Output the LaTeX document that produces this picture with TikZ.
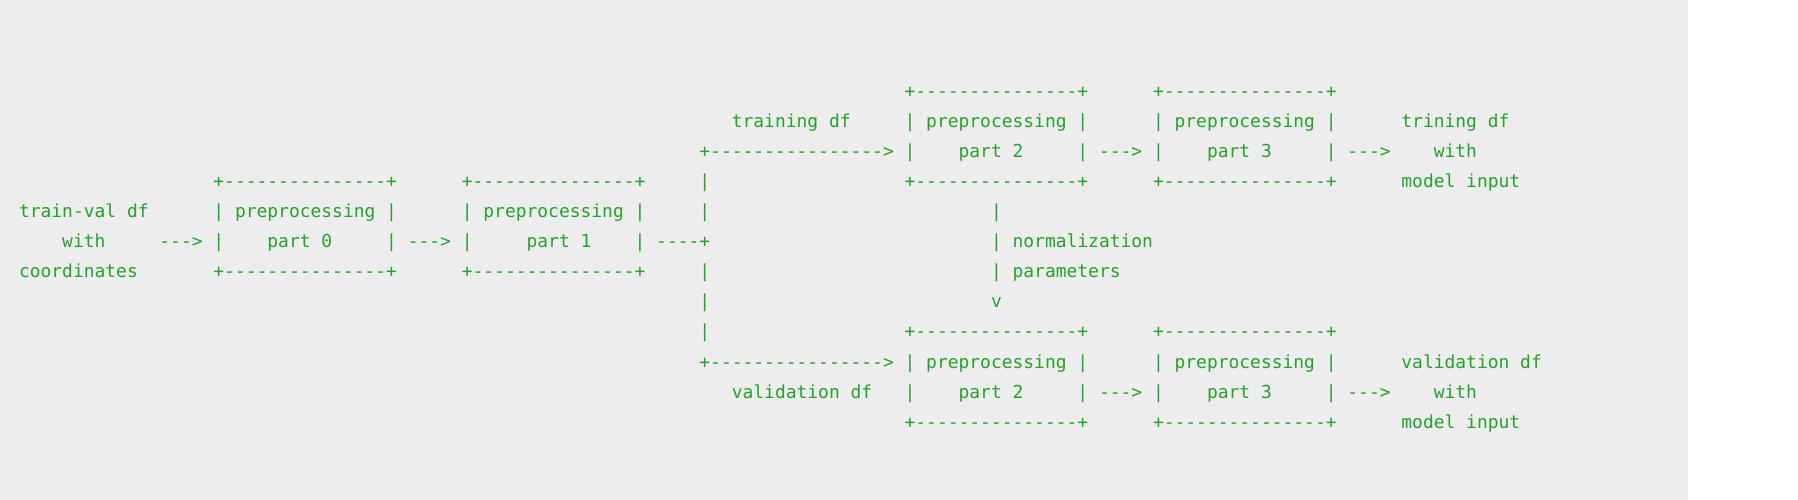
\documentclass[tikz,border=0pt]{standalone}
\usepackage{fontspec}
\setmonofont{DejaVu Sans Mono}
\definecolor{asciigreen}{RGB}{36,163,42}
\definecolor{bggrey}{RGB}{237,237,237}
\newcommand\asciiseg[4]{\node[asciitxt] (#1) at ({19+10.8*#2},{-(98+30*#3)}) {#4};}
\begin{document}
\begin{tikzpicture}[x=1bp,y=1bp,
  asciitxt/.style={anchor=base west, inner sep=0pt, outer sep=0pt, text=asciigreen,
    font=\ttfamily\fontsize{17.94bp}{30bp}\selectfont}]
\useasboundingbox (0,0) rectangle (1798,-500);
\fill[white] (0,0) rectangle (1798,-500);
\fill[bggrey] (0,0) rectangle (1688,-500);
% line 0
\asciiseg{tA}{82}{0}{+---------------+}
\asciiseg{tB}{105}{0}{+---------------+}
% line 1
\asciiseg{trainlbl}{66}{1}{training df}
\asciiseg{pTwoA}{82}{1}{| preprocessing |}
\asciiseg{pThreeA}{105}{1}{| preprocessing |}
\asciiseg{outA1}{128}{1}{trining df}
% line 2
\asciiseg{arrTrain}{63}{2}{+---------------->}
\asciiseg{pTwoAl}{82}{2}{|}
\asciiseg{pTwoAt}{87}{2}{part 2}
\asciiseg{arrA23}{98}{2}{| ---> |}
\asciiseg{pThreeAt}{110}{2}{part 3}
\asciiseg{arrAout}{121}{2}{| --->}
\asciiseg{outA2}{131}{2}{with}
% line 3
\asciiseg{bZeroT}{18}{3}{+---------------+}
\asciiseg{bOneT}{41}{3}{+---------------+}
\asciiseg{vL3}{63}{3}{|}
\asciiseg{tAb}{82}{3}{+---------------+}
\asciiseg{tBb}{105}{3}{+---------------+}
\asciiseg{outA3}{128}{3}{model input}
% line 4
\asciiseg{in1}{0}{4}{train-val df}
\asciiseg{pZero}{18}{4}{| preprocessing |}
\asciiseg{pOne}{41}{4}{| preprocessing |}
\asciiseg{vL4}{63}{4}{|}
\asciiseg{vN4}{90}{4}{|}
% line 5
\asciiseg{in2}{4}{5}{with}
\asciiseg{arrIn}{13}{5}{---> |}
\asciiseg{pZeroT}{23}{5}{part 0}
\asciiseg{arr01}{34}{5}{| ---> |}
\asciiseg{pOneT}{47}{5}{part 1}
\asciiseg{arrSplit}{57}{5}{| ----+}
\asciiseg{vN5}{90}{5}{| normalization}
% line 6
\asciiseg{in3}{0}{6}{coordinates}
\asciiseg{bZeroB}{18}{6}{+---------------+}
\asciiseg{bOneB}{41}{6}{+---------------+}
\asciiseg{vL6}{63}{6}{|}
\asciiseg{vN6}{90}{6}{| parameters}
% line 7
\asciiseg{vL7}{63}{7}{|}
\asciiseg{vN7}{90}{7}{v}
% line 8
\asciiseg{vL8}{63}{8}{|}
\asciiseg{bA}{82}{8}{+---------------+}
\asciiseg{bB}{105}{8}{+---------------+}
% line 9
\asciiseg{arrVal}{63}{9}{+----------------> | preprocessing |}
\asciiseg{pThreeB}{105}{9}{| preprocessing |}
\asciiseg{outB1}{128}{9}{validation df}
% line 10
\asciiseg{vallbl}{66}{10}{validation df}
\asciiseg{pTwoBl}{82}{10}{|}
\asciiseg{pTwoBt}{87}{10}{part 2}
\asciiseg{arrB23}{98}{10}{| ---> |}
\asciiseg{pThreeBt}{110}{10}{part 3}
\asciiseg{arrBout}{121}{10}{| --->}
\asciiseg{outB2}{131}{10}{with}
% line 11
\asciiseg{bAb}{82}{11}{+---------------+}
\asciiseg{bBb}{105}{11}{+---------------+}
\asciiseg{outB3}{128}{11}{model input}
\end{tikzpicture}
\end{document}
